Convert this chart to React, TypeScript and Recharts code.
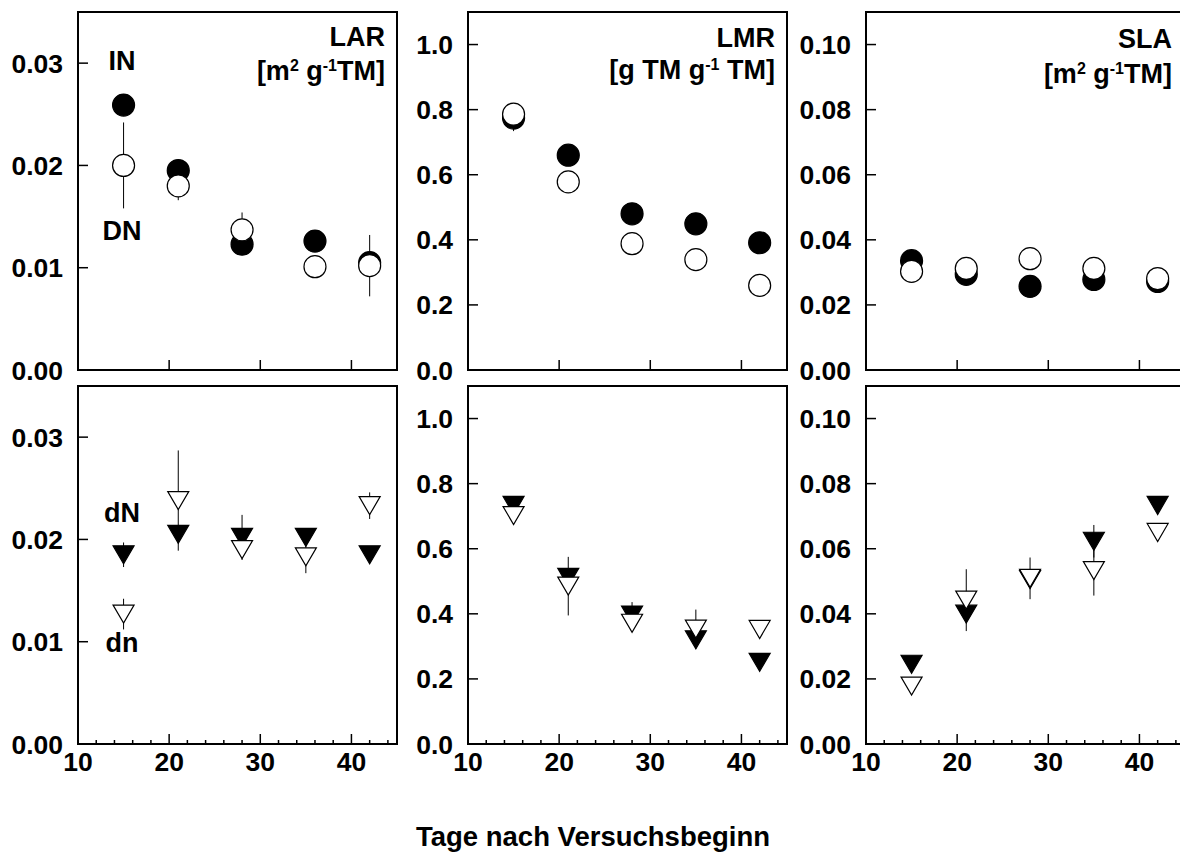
import React from 'react';
import { ScatterChart, Scatter, XAxis, YAxis, ErrorBar, ReferenceArea } from 'recharts';

const FONT = "'Liberation Sans', Arial, Helvetica, sans-serif";

// sampling days
const DAYS = [15, 21, 28, 35, 42];
const DAYS_LAR_TOP = [15, 21, 28, 36, 42];

// top row: IN (filled circle), DN (open circle)
const LAR_IN = [0.0259, 0.0195, 0.0123, 0.0126, 0.0105];
const LAR_IN_ERR = [0, 0, 0, 0, 0];
const LAR_DN = [0.0200, 0.0180, 0.0137, 0.0101, 0.0102];
const LAR_DN_ERR = [0.0042, 0.0014, 0.0017, 0, 0.003];

const LMR_IN = [0.774, 0.660, 0.480, 0.449, 0.391];
const LMR_IN_ERR = [0.04, 0, 0, 0, 0];
const LMR_DN = [0.786, 0.578, 0.388, 0.339, 0.260];
const LMR_DN_ERR = [0, 0, 0, 0, 0];

const SLA_IN = [0.0336, 0.0294, 0.0257, 0.0278, 0.0272];
const SLA_IN_ERR = [0, 0, 0, 0, 0];
const SLA_DN = [0.0303, 0.0312, 0.0342, 0.0312, 0.0281];
const SLA_DN_ERR = [0, 0, 0.0035, 0, 0];

// bottom row: dN (filled triangle), dn (open triangle)
const LAR_dN = [0.0185, 0.0205, 0.0202, 0.0202, 0.0185];
const LAR_dN_ERR = [0.0012, 0, 0.0022, 0, 0];
const LAR_dn = [0.0127, 0.0238, 0.0190, 0.0183, 0.0233];
const LAR_dn_ERR = [0.0015, 0.0049, 0, 0.0016, 0.0013];

const LMR_dN = [0.733, 0.512, 0.396, 0.320, 0.251];
const LMR_dN_ERR = [0, 0, 0.04, 0, 0];
const LMR_dn = [0.702, 0.485, 0.371, 0.353, 0.352];
const LMR_dn_ERR = [0, 0.09, 0, 0.06, 0];

const SLA_dN = [0.0245, 0.0399, 0.0505, 0.0623, 0.0733];
const SLA_dN_ERR = [0, 0, 0, 0.005, 0];
const SLA_dn = [0.0178, 0.0442, 0.0509, 0.0533, 0.0650];
const SLA_dn_ERR = [0, 0.0095, 0.0064, 0.0077, 0];

// axes
const X_MAJOR = [10, 20, 30, 40];
const X_MINOR = [10, 12, 14, 16, 18, 20, 22, 24, 26, 28, 30, 32, 34, 36, 38, 40, 42, 44];
const LAR_TICKS = [0, 0.01, 0.02, 0.03];
const LMR_TICKS = [0, 0.2, 0.4, 0.6, 0.8, 1.0];
const SLA_TICKS = [0, 0.02, 0.04, 0.06, 0.08, 0.1];

const build = (xs: number[], ys: number[], errs: number[]) =>
  xs.map((x, i) => ({ x, y: ys[i], e: errs[i] }));

const circleShape = (fill: string) => (p: any) => (
  <circle cx={p.cx} cy={p.cy} r={11} fill={fill} stroke="#000" strokeWidth={1.2} />
);

const triangleShape = (fill: string) => (p: any) => (
  <path
    d={`M${p.cx - 10.5},${p.cy - 9} L${p.cx + 10.5},${p.cy - 9} L${p.cx},${p.cy + 9} Z`}
    fill={fill}
    stroke="#000"
    strokeWidth={1.2}
  />
);

const YTick = ({ x, y, payload, digits }: any) => (
  <g>
    <line x1={x} y1={y} x2={x + 10} y2={y} stroke="#000" strokeWidth={1.5} />
    <text x={x - 15} y={y + 9.5} textAnchor="end" fontFamily={FONT} fontWeight="bold" fontSize={26.5} fill="#000">
      {Number(payload.value).toFixed(digits)}
    </text>
  </g>
);

const XTick = ({ x, y, payload, labels }: any) => {
  const v = payload.value;
  const major = v % 10 === 0;
  return (
    <g>
      {v !== 10 && <line x1={x} y1={y} x2={x} y2={y - (major ? 10 : 4)} stroke="#000" strokeWidth={1.5} />}
      {labels && major && (
        <text x={x} y={y + 27} textAnchor="middle" fontFamily={FONT} fontWeight="bold" fontSize={26.5} fill="#000">
          {v}
        </text>
      )}
    </g>
  );
};

const TopTick = ({ x, y, payload }: any) =>
  payload.value === 10 ? <g /> : <line x1={x} y1={y} x2={x} y2={y + 4} stroke="#000" strokeWidth={1.5} />;

interface SeriesDef {
  data: { x: number; y: number; e: number }[];
  shape: (p: any) => React.ReactElement;
}

interface PanelProps {
  left: number;
  top: number;
  yMax: number;
  yTicks: number[];
  digits: number;
  bottomRow: boolean;
  series: SeriesDef[];
}

const PW = 319;
const PH = 358;
const ML = 78;
const MT = 12;
const MR = 12;
const XH = 40;

const Panel = ({ left, top, yMax, yTicks, digits, bottomRow, series }: PanelProps) => (
  <div style={{ position: 'absolute', left: left - ML, top: top - MT }}>
    <ScatterChart width={ML + PW + MR} height={MT + PH + XH} margin={{ top: MT, right: MR, bottom: 0, left: 0 }}>
      <XAxis
        xAxisId="top"
        orientation="top"
        type="number"
        domain={[10, 45]}
        ticks={X_MINOR}
        height={0}
        axisLine={false}
        tickLine={false}
        tickSize={0}
        tickMargin={0}
        interval={0}
        allowDataOverflow
        tick={bottomRow ? (p: any) => <TopTick {...p} /> : false}
      />
      <XAxis
        dataKey="x"
        type="number"
        domain={[10, 45]}
        ticks={bottomRow ? X_MINOR : X_MAJOR}
        height={XH}
        axisLine={false}
        tickLine={false}
        tickSize={0}
        tickMargin={0}
        interval={0}
        allowDataOverflow
        tick={(p: any) => <XTick {...p} labels={bottomRow} />}
      />
      <YAxis
        dataKey="y"
        type="number"
        domain={[0, yMax]}
        ticks={yTicks}
        width={ML}
        axisLine={false}
        tickLine={false}
        tickSize={0}
        tickMargin={0}
        interval={0}
        allowDataOverflow
        tick={(p: any) => <YTick {...p} digits={digits} />}
      />
      <ReferenceArea x1={10} x2={45} y1={0} y2={yMax} fill="none" stroke="#000" strokeWidth={2} />
      {series.map((s, i) => (
        <Scatter key={i} data={s.data} shape={s.shape} isAnimationActive={false}>
          <ErrorBar dataKey="e" direction="y" width={0} stroke="#000" strokeWidth={1} />
        </Scatter>
      ))}
    </ScatterChart>
  </div>
);

const T = { fontFamily: FONT, fontWeight: 'bold' as const, fill: '#000' };

const UnitArea = ({ x, y }: { x: number; y: number }) => (
  <text x={x} y={y} textAnchor="end" fontSize={27} {...T}>
    [m<tspan dy={-9} fontSize={16}>2</tspan>
    <tspan dy={9}> g</tspan>
    <tspan dy={-9} fontSize={16}>-1</tspan>
    <tspan dy={9}>TM]</tspan>
  </text>
);

export default function App() {
  return (
    <div style={{ position: 'fixed', left: 0, top: 0, width: 1180, height: 853, overflow: 'hidden', background: '#fff' }}>
      <Panel left={78} top={12} yMax={0.035} yTicks={LAR_TICKS} digits={2} bottomRow={false}
        series={[
          { data: build(DAYS_LAR_TOP, LAR_IN, LAR_IN_ERR), shape: circleShape('#000') },
          { data: build(DAYS_LAR_TOP, LAR_DN, LAR_DN_ERR), shape: circleShape('#fff') },
        ]} />
      <Panel left={468} top={12} yMax={1.1} yTicks={LMR_TICKS} digits={1} bottomRow={false}
        series={[
          { data: build(DAYS, LMR_IN, LMR_IN_ERR), shape: circleShape('#000') },
          { data: build(DAYS, LMR_DN, LMR_DN_ERR), shape: circleShape('#fff') },
        ]} />
      <Panel left={866} top={12} yMax={0.11} yTicks={SLA_TICKS} digits={2} bottomRow={false}
        series={[
          { data: build(DAYS, SLA_IN, SLA_IN_ERR), shape: circleShape('#000') },
          { data: build(DAYS, SLA_DN, SLA_DN_ERR), shape: circleShape('#fff') },
        ]} />
      <Panel left={78} top={386} yMax={0.035} yTicks={LAR_TICKS} digits={2} bottomRow
        series={[
          { data: build(DAYS, LAR_dN, LAR_dN_ERR), shape: triangleShape('#000') },
          { data: build(DAYS, LAR_dn, LAR_dn_ERR), shape: triangleShape('#fff') },
        ]} />
      <Panel left={468} top={386} yMax={1.1} yTicks={LMR_TICKS} digits={1} bottomRow
        series={[
          { data: build(DAYS, LMR_dN, LMR_dN_ERR), shape: triangleShape('#000') },
          { data: build(DAYS, LMR_dn, LMR_dn_ERR), shape: triangleShape('#fff') },
        ]} />
      <Panel left={866} top={386} yMax={0.11} yTicks={SLA_TICKS} digits={2} bottomRow
        series={[
          { data: build(DAYS, SLA_dN, SLA_dN_ERR), shape: triangleShape('#000') },
          { data: build(DAYS, SLA_dn, SLA_dn_ERR), shape: triangleShape('#fff') },
        ]} />

      <svg width={1180} height={853} style={{ position: 'absolute', left: 0, top: 0, pointerEvents: 'none' }}>
        <text x={385} y={46} textAnchor="end" fontSize={27} {...T}>LAR</text>
        <UnitArea x={385} y={80} />
        <text x={775} y={47} textAnchor="end" fontSize={27} {...T}>LMR</text>
        <text x={775} y={79} textAnchor="end" fontSize={27} {...T}>
          [g TM g<tspan dy={-9} fontSize={16}>-1</tspan>
          <tspan dy={9}> TM]</tspan>
        </text>
        <text x={1172} y={48} textAnchor="end" fontSize={27} {...T}>SLA</text>
        <UnitArea x={1172} y={83} />

        <text x={122} y={70} textAnchor="middle" fontSize={27} {...T}>IN</text>
        <text x={122} y={240} textAnchor="middle" fontSize={27} {...T}>DN</text>
        <text x={122} y={522} textAnchor="middle" fontSize={27} {...T}>dN</text>
        <text x={122} y={652} textAnchor="middle" fontSize={27} {...T}>dn</text>

        <text x={593} y={846} textAnchor="middle" fontSize={27.5} {...T}>Tage nach Versuchsbeginn</text>
      </svg>
    </div>
  );
}
